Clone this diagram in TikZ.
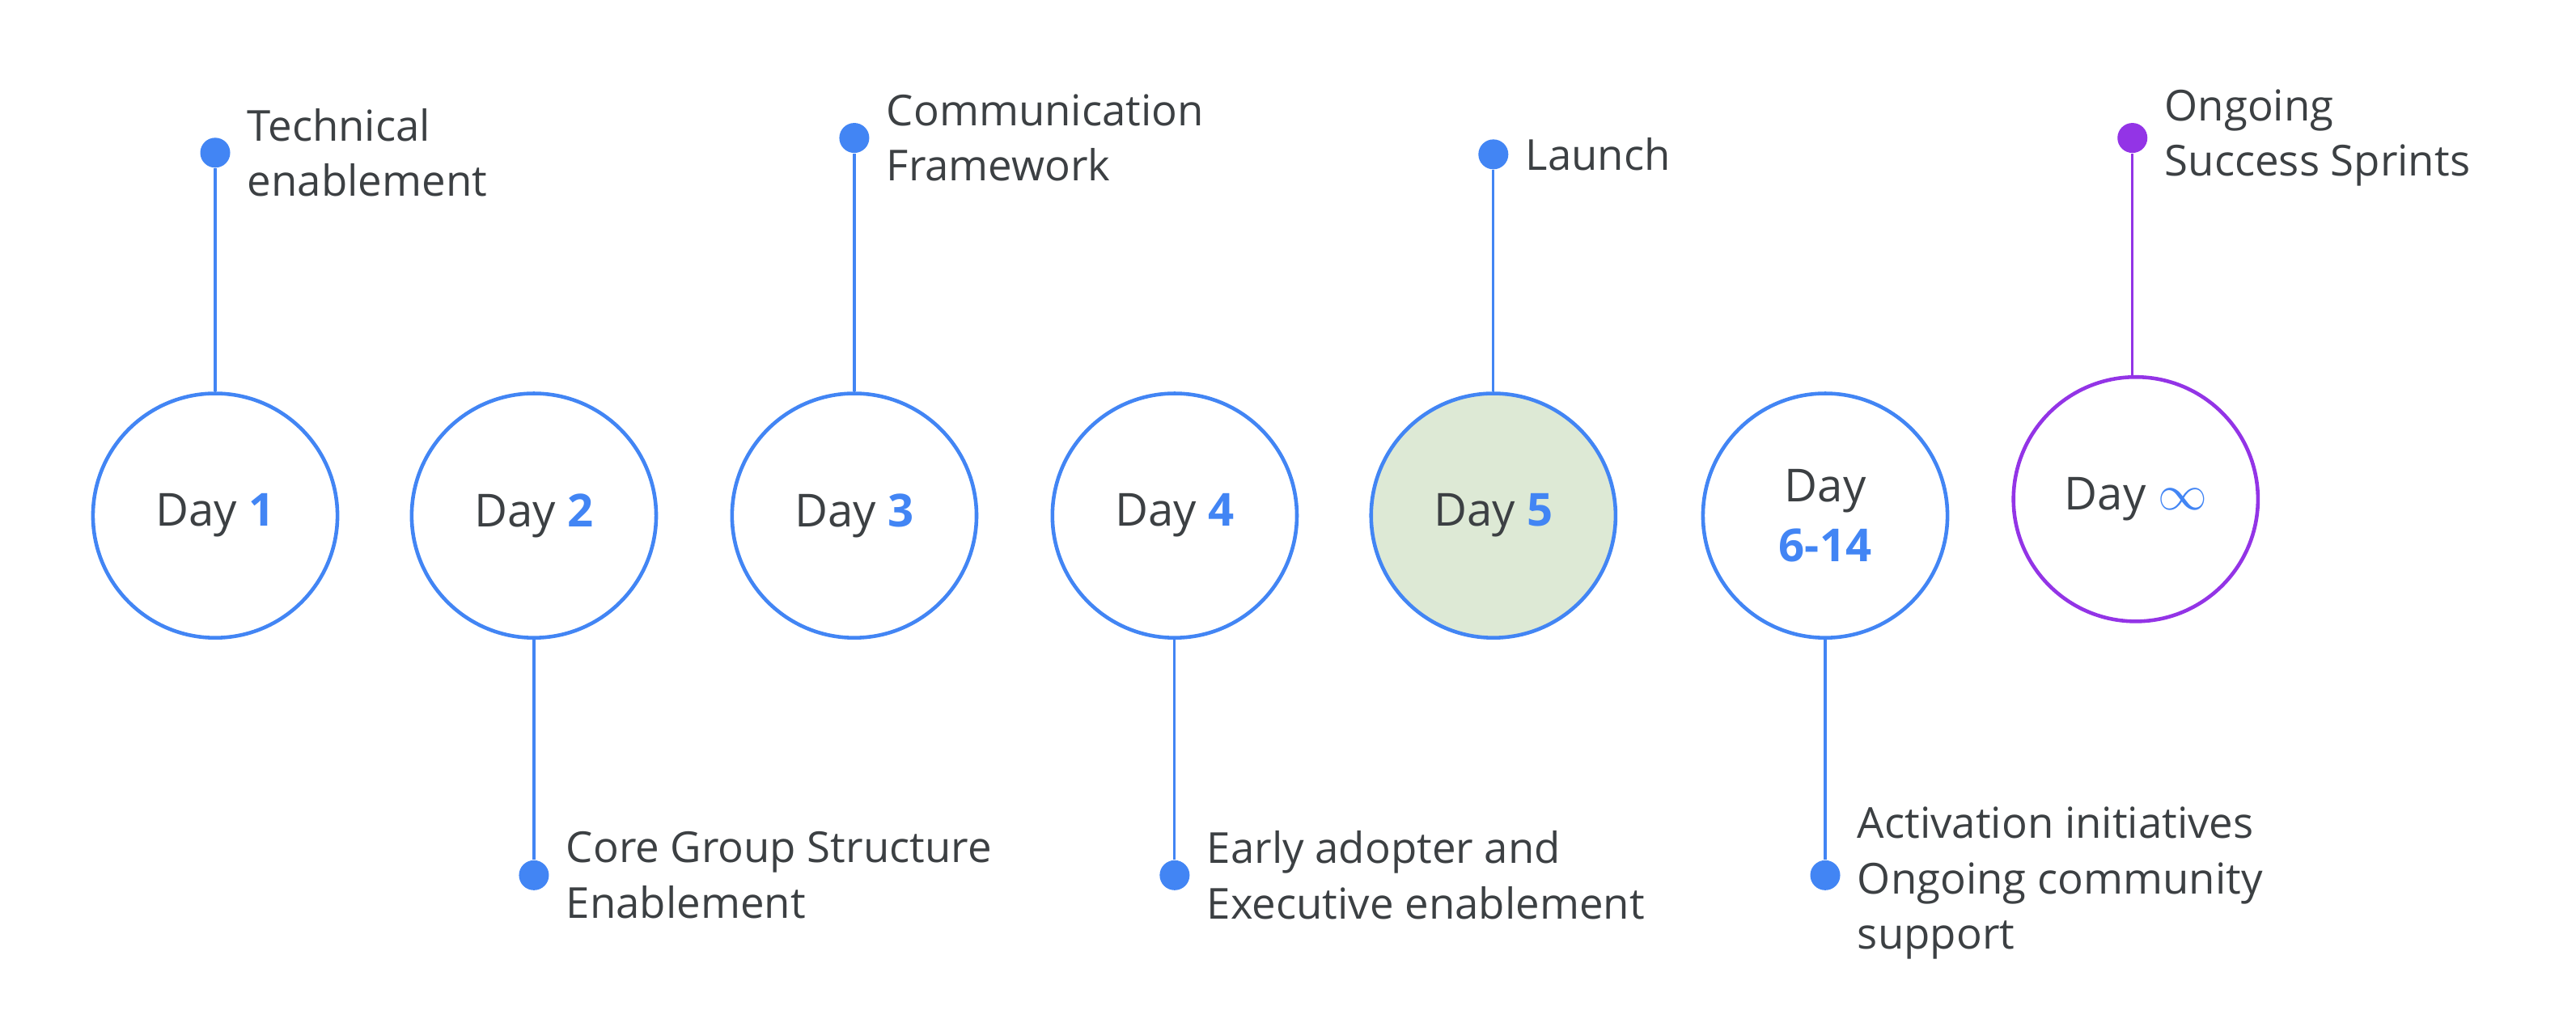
\documentclass[tikz,border=0pt]{standalone}
\usepackage{fontspec}
\setmainfont{Open Sans}
\usetikzlibrary{positioning}
\definecolor{DayBlue}{RGB}{66, 133, 244}
\definecolor{DayPurple}{RGB}{147, 52, 230}
\definecolor{DayGreen}{RGB}{221, 233, 213}
\definecolor{InkGrey}{RGB}{60, 64, 67}
\begin{document}
\begin{tikzpicture}[x=0.0203cm, y=-0.0203cm]
        \tikzset{daycircle/.style={circle, draw=DayBlue, line width=1.3pt, minimum size=3.02cm, inner sep=0pt, text=InkGrey, font=\fontsize{16}{21}\selectfont, align=center}}
        \tikzset{daydot/.style={circle, fill=DayBlue, minimum size=0.37cm, inner sep=0pt}}
        \tikzset{link/.style={DayBlue, line width=0.9pt}}
        \tikzset{caption/.style={right=0.15cm, text=InkGrey, font=\fontsize{15}{19.5}\selectfont, align=left, inner sep=0pt}}
        \newcommand{\num}[1]{\textcolor{DayBlue}{\textbf{#1}}}

        \useasboundingbox (0,0) rectangle (1568,625);

        % Day circles
        \node (d1) [daycircle] at (131,314) {Day \num{1}};
        \node (d2) [daycircle] at (325,314) {Day \num{2}};
        \node (d3) [daycircle] at (520,314) {Day \num{3}};
        \node (d4) [daycircle] at (715,314) {Day \num{4}};
        \node (d5) [daycircle, fill=DayGreen] at (909,314) {Day \num{5}};
        \node (d6) [daycircle] at (1111,314) {Day\\\num{6-14}};
        \node (d7) [daycircle, draw=DayPurple] at (1300,304) {Day \textcolor{DayBlue}{\textbf{$\infty$}}};

        % Milestone dots
        \node (p1) [daydot] at (131,93) {};
        \node (p2) [daydot] at (325,533) {};
        \node (p3) [daydot] at (520,84) {};
        \node (p4) [daydot] at (715,533) {};
        \node (p5) [daydot] at (909,94) {};
        \node (p6) [daydot] at (1111,533) {};
        \node (p7) [daydot, fill=DayPurple] at (1298,84) {};

        % Connectors
        \draw [link] (p1) -- (d1);
        \draw [link] (p2) -- (d2);
        \draw [link] (p3) -- (d3);
        \draw [link] (p4) -- (d4);
        \draw [link] (p5) -- (d5);
        \draw [link] (p6) -- (d6);
        \draw [link, DayPurple] (p7) -- (d7.north -| p7);

        % Captions
        \node (t1) [caption, right=0.2cm of p1] {Technical\\enablement};
        \node (t2) [caption, right=0.2cm of p2] {Core Group Structure\\Enablement};
        \node (t3) [caption, right=0.2cm of p3] {Communication\\Framework};
        \node (t4) [caption, right=0.2cm of p4] {Early adopter and\\Executive enablement};
        \node (t5) [caption, right=0.2cm of p5] {Launch};
        \node (t6) [caption, right=0.2cm of p6, yshift=-0.1cm] {Activation initiatives\\Ongoing community\\support};
        \node (t7) [caption, right=0.2cm of p7] {Ongoing\\Success Sprints};
    \end{tikzpicture}
\end{document}
